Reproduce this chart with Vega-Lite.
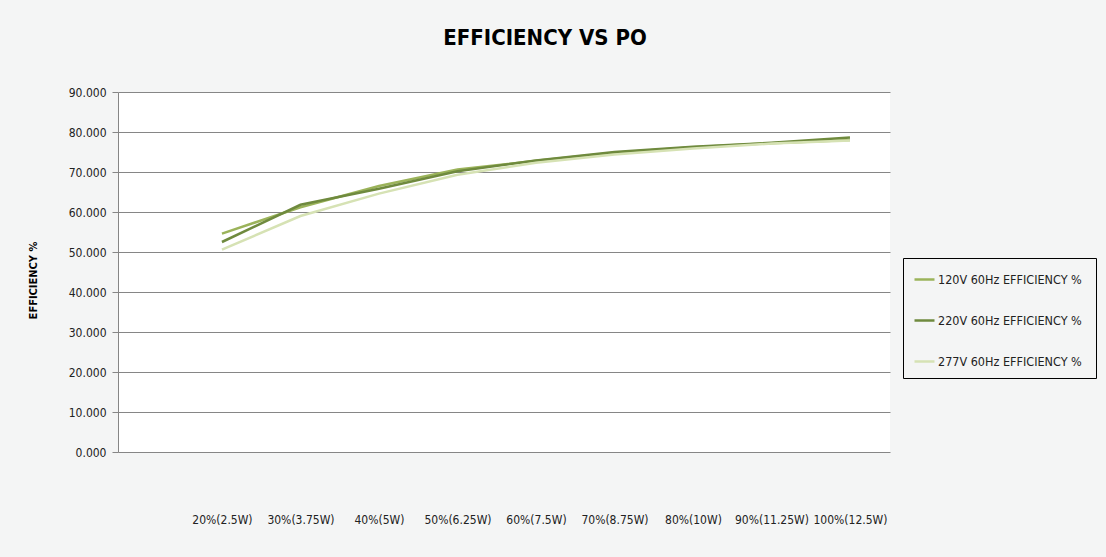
{
  "$schema": "https://vega.github.io/schema/vega-lite/v6.json",
  "autosize": "none",
  "width": 772,
  "height": 360,
  "padding": {"left": 118, "top": 92, "right": 216, "bottom": 105},
  "background": "#f4f5f5",
  "config": {
    "view": {"stroke": null, "fill": "#ffffff"},
    "font": "DejaVu Sans Condensed, Liberation Sans Narrow, sans-serif"
  },
  "title": {
    "text": "EFFICIENCY VS PO",
    "font": "DejaVu Sans Condensed, Liberation Sans Narrow, sans-serif",
    "fontSize": 22,
    "fontWeight": "bold",
    "color": "#000000",
    "anchor": "middle",
    "dx": 41,
    "offset": 36
  },
  "data": {
    "values": [
      {"load": "20%(2.5W)", "series": "120V 60Hz  EFFICIENCY %", "eff": 54.6},
      {"load": "30%(3.75W)", "series": "120V 60Hz  EFFICIENCY %", "eff": 61.2},
      {"load": "40%(5W)", "series": "120V 60Hz  EFFICIENCY %", "eff": 66.5},
      {"load": "50%(6.25W)", "series": "120V 60Hz  EFFICIENCY %", "eff": 70.6},
      {"load": "60%(7.5W)", "series": "120V 60Hz  EFFICIENCY %", "eff": 72.8},
      {"load": "70%(8.75W)", "series": "120V 60Hz  EFFICIENCY %", "eff": 74.8},
      {"load": "80%(10W)", "series": "120V 60Hz  EFFICIENCY %", "eff": 76.2},
      {"load": "90%(11.25W)", "series": "120V 60Hz  EFFICIENCY %", "eff": 77.2},
      {"load": "100%(12.5W)", "series": "120V 60Hz  EFFICIENCY %", "eff": 78.0},
      {"load": "20%(2.5W)", "series": "220V 60Hz EFFICIENCY %", "eff": 52.5},
      {"load": "30%(3.75W)", "series": "220V 60Hz EFFICIENCY %", "eff": 61.8},
      {"load": "40%(5W)", "series": "220V 60Hz EFFICIENCY %", "eff": 65.8},
      {"load": "50%(6.25W)", "series": "220V 60Hz EFFICIENCY %", "eff": 70.2},
      {"load": "60%(7.5W)", "series": "220V 60Hz EFFICIENCY %", "eff": 72.9},
      {"load": "70%(8.75W)", "series": "220V 60Hz EFFICIENCY %", "eff": 75.0},
      {"load": "80%(10W)", "series": "220V 60Hz EFFICIENCY %", "eff": 76.3},
      {"load": "90%(11.25W)", "series": "220V 60Hz EFFICIENCY %", "eff": 77.3},
      {"load": "100%(12.5W)", "series": "220V 60Hz EFFICIENCY %", "eff": 78.6},
      {"load": "20%(2.5W)", "series": "277V 60Hz  EFFICIENCY %", "eff": 50.6},
      {"load": "30%(3.75W)", "series": "277V 60Hz  EFFICIENCY %", "eff": 59.0},
      {"load": "40%(5W)", "series": "277V 60Hz  EFFICIENCY %", "eff": 64.6},
      {"load": "50%(6.25W)", "series": "277V 60Hz  EFFICIENCY %", "eff": 69.3},
      {"load": "60%(7.5W)", "series": "277V 60Hz  EFFICIENCY %", "eff": 72.3},
      {"load": "70%(8.75W)", "series": "277V 60Hz  EFFICIENCY %", "eff": 74.4},
      {"load": "80%(10W)", "series": "277V 60Hz  EFFICIENCY %", "eff": 75.9},
      {"load": "90%(11.25W)", "series": "277V 60Hz  EFFICIENCY %", "eff": 77.1},
      {"load": "100%(12.5W)", "series": "277V 60Hz  EFFICIENCY %", "eff": 77.9}
    ]
  },
  "mark": {"type": "line", "strokeWidth": 2.5},
  "encoding": {
    "x": {
      "field": "load",
      "type": "ordinal",
      "sort": null,
      "scale": {"type": "point", "padding": 0.917, "align": 0.722},
      "axis": {
        "title": null,
        "labelAngle": 0,
        "ticks": false,
        "domain": false,
        "grid": false,
        "labelPadding": 62,
        "labelFontSize": 12,
        "labelColor": "#222222",
        "labelOverlap": false
      }
    },
    "y": {
      "field": "eff",
      "type": "quantitative",
      "scale": {"domain": [0, 90]},
      "axis": {
        "title": "EFFICIENCY %",
        "titleFontSize": 11,
        "titleFontWeight": "bold",
        "titleColor": "#000000",
        "titleX": -80,
        "titleY": 188,
        "titleAngle": 270,
        "values": [0, 10, 20, 30, 40, 50, 60, 70, 80, 90],
        "format": ".3f",
        "labelFontSize": 12,
        "labelColor": "#222222",
        "labelPadding": 6,
        "tickSize": 6,
        "tickColor": "#868686",
        "domainColor": "#868686",
        "gridColor": "#868686",
        "gridWidth": 1
      }
    },
    "color": {
      "field": "series",
      "type": "nominal",
      "scale": {
        "domain": ["120V 60Hz  EFFICIENCY %", "220V 60Hz EFFICIENCY %", "277V 60Hz  EFFICIENCY %"],
        "range": ["#9bb35a", "#6f8a3e", "#d6e2b4"]
      },
      "legend": {
        "title": null,
        "orient": "none",
        "legendX": 785,
        "legendY": 166,
        "symbolType": "stroke",
        "symbolSize": 400,
        "symbolStrokeWidth": 2.5,
        "labelFontSize": 12.5,
        "labelColor": "#222222",
        "rowPadding": 23,
        "padding": 10,
        "strokeColor": "#000000",
        "labelOffset": 2,
        "labelLimit": 200
      }
    }
  }
}
